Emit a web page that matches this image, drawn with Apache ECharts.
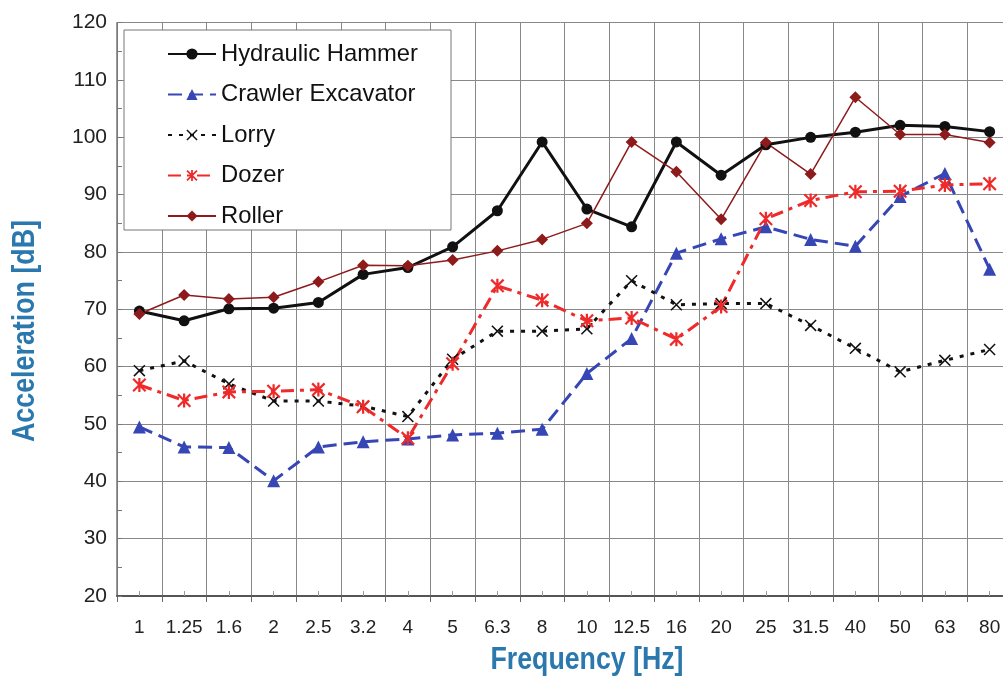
<!DOCTYPE html>
<html>
<head>
<meta charset="utf-8">
<script src="https://cdn.jsdelivr.net/npm/echarts@6/dist/echarts.min.js"></script>
<style>html,body{margin:0;padding:0;background:#fff;}#c{width:1003px;height:682px;}</style>
</head>
<body>
<div id="c"></div>
<script>
const categories = ['1','1.25','1.6','2','2.5','3.2','4','5','6.3','8','10','12.5','16','20','25','31.5','40','50','63','80'];
const hydraulicHammer = [69.7,68.0,70.1,70.2,71.2,76.1,77.3,80.9,87.2,99.2,87.5,84.4,99.2,93.4,98.7,100.0,100.9,102.1,101.9,101.0];
const crawlerExcavator = [49.5,46.0,45.9,40.1,46.0,46.9,47.4,48.1,48.4,49.1,58.8,64.9,79.8,82.3,84.4,82.2,81.0,89.7,93.7,77.0];
const lorry = [59.3,61.0,57.0,54.0,54.0,53.1,51.3,61.3,66.2,66.2,66.6,75.0,70.8,71.0,71.0,67.2,63.2,59.1,61.1,63.0];
const dozer = [56.8,54.1,55.6,55.7,56.0,53.0,47.5,60.5,74.1,71.6,68.0,68.5,64.8,70.5,85.8,89.0,90.5,90.6,91.7,91.9];
const roller = [69.2,72.5,71.8,72.1,74.8,77.7,77.6,78.6,80.2,82.2,85.0,99.2,94.0,85.7,99.1,93.6,107.0,100.5,100.5,99.1];
const seriesNames = ['Hydraulic Hammer','Crawler Excavator','Lorry','Dozer','Roller'];
const yTitle = 'Acceleration [dB]';
const xTitle = 'Frequency [Hz]';

const asterisk = 'path://M4.2,0 L5.8,0 L5.8,10 L4.2,10 Z M0,1.1 L1.1,0 L10,8.9 L8.9,10 Z M8.9,0 L10,1.1 L1.1,10 L0,8.9 Z';
const cross = 'path://M0,0.9 L0.9,0 L10,9.1 L9.1,10 Z M9.1,0 L10,0.9 L0.9,10 L0,9.1 Z';

const sans = "'Liberation Sans',Arial,sans-serif";
const titleBlue = '#2a78ae';

const chart = echarts.init(document.getElementById('c'), null, {renderer:'canvas'});
chart.setOption({
  animation:false,
  backgroundColor:'#fff',
  grid:{left:117, top:22.7, right:-9, bottom:86, outerBoundsMode:'none', containLabel:false},
  legend:{
    orient:'vertical', left:167, top:42, padding:0,
    itemWidth:48, itemHeight:14, itemGap:16.5,
    textStyle:{fontFamily:sans, fontSize:23.8, color:'#111'},
    data:seriesNames, z:10
  },
  graphic:[
    {type:'rect', shape:{x:124, y:30, width:327, height:200}, style:{fill:'#fff', stroke:'#777', lineWidth:1}, z:5},
    {type:'text', x:25, y:331, rotation:Math.PI/2, scaleX:0.865, z:5,
     style:{text:yTitle, fontFamily:sans, fontWeight:'bold', fontSize:31, fill:titleBlue, align:'center', verticalAlign:'middle'}},
    {type:'text', x:587, y:660, scaleX:0.862, z:5,
     style:{text:xTitle, fontFamily:sans, fontWeight:'bold', fontSize:31, fill:titleBlue, align:'center', verticalAlign:'middle'}}
  ],
  xAxis:[{
    type:'category', data:categories, boundaryGap:true,
    axisLine:{lineStyle:{color:'#555', width:2}},
    axisTick:{show:true, inside:false, length:6, lineStyle:{color:'#666'}},
    axisLabel:{interval:0, margin:22, fontFamily:sans, fontSize:19, color:'#222'},
    splitLine:{show:true, interval:0, lineStyle:{color:'#888', width:1}}
  },{
    type:'category', data:categories, boundaryGap:true, position:'bottom',
    axisLine:{show:false},
    axisTick:{show:true, inside:true, alignWithLabel:true, interval:0, length:5, lineStyle:{color:'#999'}},
    axisLabel:{show:false}, splitLine:{show:false}
  }],
  yAxis:{
    type:'value', min:20, max:120, interval:10,
    axisLine:{show:true, lineStyle:{color:'#777', width:1.5}},
    axisTick:{show:true, inside:true, length:5, lineStyle:{color:'#777'}},
    minorTick:{show:true, splitNumber:2, length:5, lineStyle:{color:'#777'}},
    axisLabel:{margin:10, fontFamily:sans, fontSize:21, color:'#222'},
    splitLine:{show:true, lineStyle:{color:'#888', width:1}}
  },
  series:[
    {name:seriesNames[0], type:'line', data:hydraulicHammer, symbol:'circle', symbolSize:11,
     lineStyle:{color:'#111', width:3}, itemStyle:{color:'#111'}},
    {name:seriesNames[1], type:'line', data:crawlerExcavator, symbol:'triangle', symbolSize:13,
     lineStyle:{color:'#3646b4', width:3, type:[14,7]}, itemStyle:{color:'#3646b4'}},
    {name:seriesNames[2], type:'line', data:lorry, symbol:cross, symbolSize:12,
     lineStyle:{color:'#111', width:3, type:[4,7]}, itemStyle:{color:'#111'}},
    {name:seriesNames[3], type:'line', data:dozer, symbol:asterisk, symbolSize:14,
     lineStyle:{color:'#ee2a2a', width:3, type:[13,6,4,6]}, itemStyle:{color:'#ee2a2a'}},
    {name:seriesNames[4], type:'line', data:roller, symbol:'diamond', symbolSize:12,
     lineStyle:{color:'#8e1b1b', width:1.5}, itemStyle:{color:'#8e1b1b'}}
  ]
});
</script>
</body>
</html>
